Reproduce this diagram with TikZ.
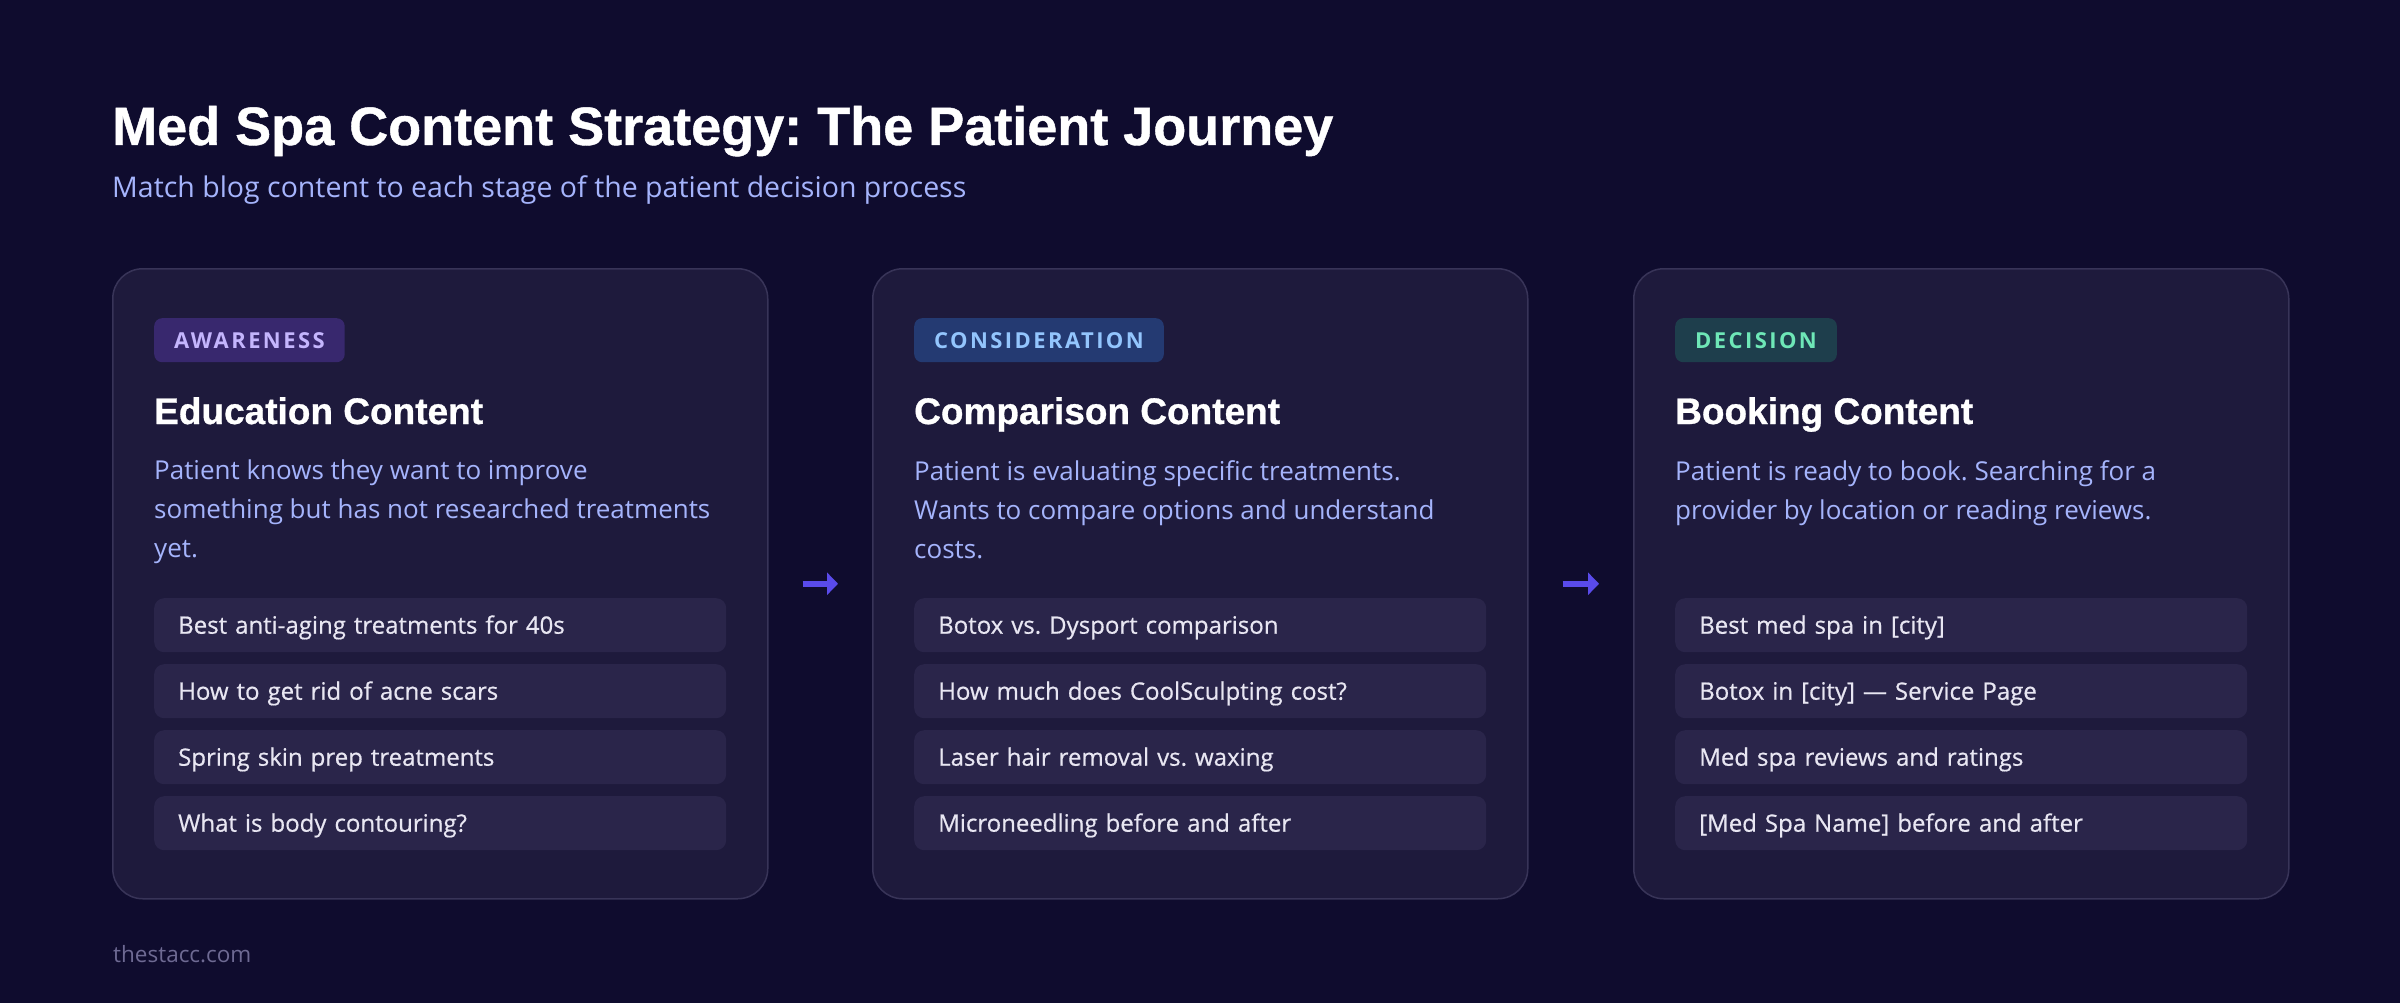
\documentclass[tikz,border=0pt]{standalone}
\usepackage{fontspec}
\setmainfont{Open Sans}
\newfontfamily\headfont{Liberation Sans}[BoldFeatures={FakeBold=0.8}]
\newfontfamily\badgefont[LetterSpace=11]{Open Sans}
\newfontfamily\itemfont[FakeBold=0.6]{Open Sans}
\usetikzlibrary{positioning,calc,arrows.meta}
\frenchspacing
\definecolor{pagebg}{HTML}{0F0C2E}
\definecolor{cardbg}{HTML}{1E1A3C}
\definecolor{cardline}{HTML}{383458}
\definecolor{itembg}{HTML}{2A254A}
\definecolor{itemtext}{HTML}{E8E6F2}
\definecolor{softblue}{HTML}{A5B4FC}
\definecolor{flow}{HTML}{5A4BEB}
\definecolor{footgray}{HTML}{6E6A93}
\definecolor{awarefill}{HTML}{38286E}
\definecolor{awaretext}{HTML}{C4B5FD}
\definecolor{considfill}{HTML}{243A72}
\definecolor{considtext}{HTML}{93C5FD}
\definecolor{decifill}{HTML}{1E3E4C}
\definecolor{decitext}{HTML}{6EE7B7}
\tikzset{
  card/.style={draw=cardline, fill=cardbg, line width=1.5pt, rounded corners=30pt,
    minimum width=655pt, minimum height=630pt, anchor=north west, inner sep=0pt},
  badge/.style={rounded corners=8pt, minimum height=44pt, inner xsep=20pt, inner ysep=0pt,
    anchor=north west, text height=16pt, text depth=0pt,
    font=\badgefont\bfseries\fontsize{22}{26}\selectfont},
  heading/.style={anchor=base west, inner sep=0pt, text=white,
    font=\headfont\bfseries\fontsize{37}{44}\selectfont},
  desc/.style={anchor=north west, inner sep=0pt, align=left, text=softblue,
    font=\fontsize{26}{39}\selectfont},
  item/.style={fill=itembg, rounded corners=10pt, anchor=north west, minimum width=572pt,
    minimum height=54pt, inner xsep=24pt, inner ysep=0pt, text width=524pt, align=left,
    text height=17pt, text depth=0pt, text=itemtext, font=\itemfont\fontsize{24}{28}\selectfont},
  flowarrow/.style={draw=flow, line width=6pt, shorten <=34pt, shorten >=34pt,
    -{Triangle[length=11pt, width=22pt]}}
}
\begin{document}
\begin{tikzpicture}[x=1pt, y=-1pt]
\fill[pagebg] (0,0) rectangle (2400,1003);
\useasboundingbox (0,0) rectangle (2400,1003);
% title
\node[anchor=base west, inner sep=0pt, text=white, font=\headfont\bfseries\fontsize{54}{62}\selectfont] (title) at (112,145) {Med Spa Content Strategy: The Patient Journey};
\node[anchor=base west, inner sep=0pt, text=softblue, font=\fontsize{28.5}{34}\selectfont] (subtitle) at (112,197) {Match blog content to each stage of the patient decision process};
% cards
\node[card] (card1) at (112,268) {};
\node[card] (card2) at (872,268) {};
\node[card] (card3) at (1633,268) {};
% awareness
\node[badge, fill=awarefill, text=awaretext] (badge1) at ($(card1.north west)+(42,50)$) {AWARENESS};
\node[heading] (head1) at ($(card1.north west)+(42,156)$) {Education Content};
\node[desc] (desc1) at ($(card1.north west)+(42,192)$) {Patient knows they want to improve\\something but has not researched treatments\\yet.};
\foreach \txt [count=\i, evaluate=\i as \dy using 330+66*(\i-1)] in {Best anti-aging treatments for 40s, How to get rid of acne scars, Spring skin prep treatments, What is body contouring?}
  \node[item] (aw\i) at ($(card1.north west)+(42,\dy)$) {\txt};
% consideration
\node[badge, fill=considfill, text=considtext] (badge2) at ($(card2.north west)+(42,50)$) {CONSIDERATION};
\node[heading] (head2) at ($(card2.north west)+(42,156)$) {Comparison Content};
\node[desc] (desc2) at ($(card2.north west)+(42,192)$) {Patient is evaluating specific treatments.\\Wants to compare options and understand\\costs.};
\foreach \txt [count=\i, evaluate=\i as \dy using 330+66*(\i-1)] in {Botox vs. Dysport comparison, How much does CoolSculpting cost?, Laser hair removal vs. waxing, Microneedling before and after}
  \node[item] (co\i) at ($(card2.north west)+(42,\dy)$) {\txt};
% decision
\node[badge, fill=decifill, text=decitext] (badge3) at ($(card3.north west)+(42,50)$) {DECISION};
\node[heading] (head3) at ($(card3.north west)+(42,156)$) {Booking Content};
\node[desc] (desc3) at ($(card3.north west)+(42,192)$) {Patient is ready to book. Searching for a\\provider by location or reading reviews.};
\foreach \txt [count=\i, evaluate=\i as \dy using 330+66*(\i-1)] in {{Best med spa in [city]}, {Botox in [city] — Service Page}, Med spa reviews and ratings, {[Med Spa Name] before and after}}
  \node[item] (de\i) at ($(card3.north west)+(42,\dy)$) {\txt};
% arrows
\draw[flowarrow] (card1.east) -- (card2.west);
\draw[flowarrow] (card2.east) -- (card3.west);
% footer
\node[anchor=base west, inner sep=0pt, text=footgray, font=\fontsize{22.5}{27}\selectfont] (foot) at (113,962) {thestacc.com};
\end{tikzpicture}
\end{document}
